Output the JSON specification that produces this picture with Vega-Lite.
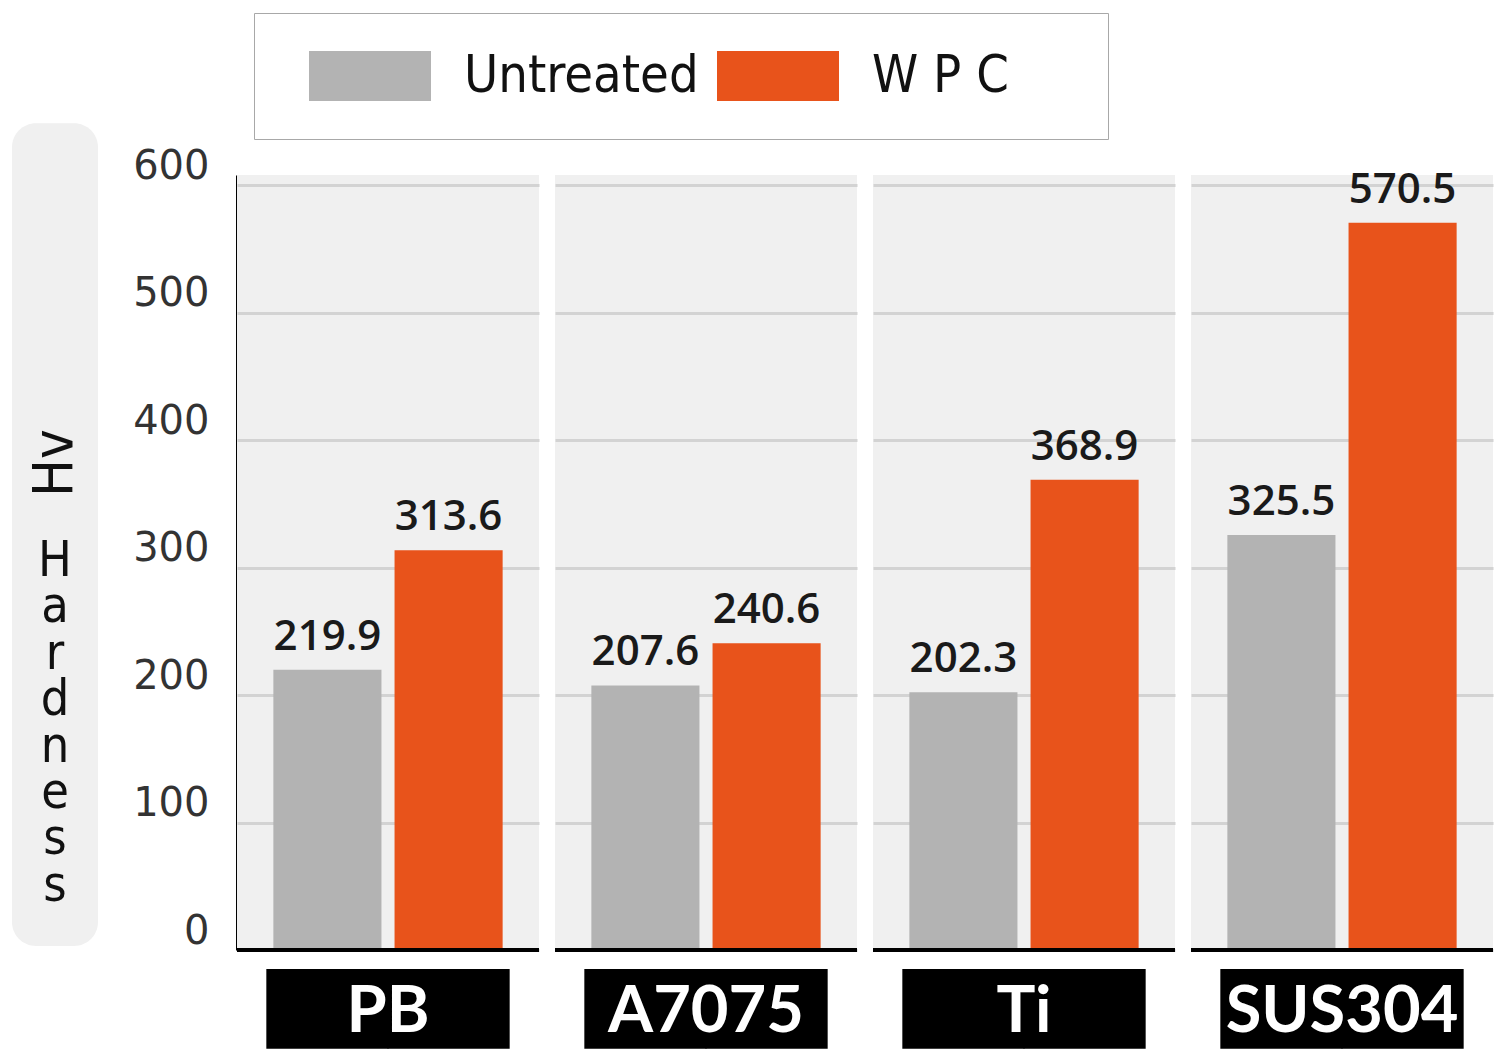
{
  "$schema": "https://vega.github.io/schema/vega-lite/v6.json",
  "padding": {"left": 12, "top": 12, "right": 0, "bottom": 0},
  "background": "white",
  "config": {"view": {"stroke": null}},
  "spacing": 139,
  "bounds": "flush",
  "hconcat": [
    {
      "width": 86,
      "height": 775,
      "data": {"values": [{"axis": "y"}]},
      "layer": [
        {
          "mark": {"type": "rect", "fill": "#f0f0f0", "cornerRadius": 24},
          "encoding": {
            "y": {"datum": 648.6, "type": "quantitative", "scale": {"domain": [0, 608], "nice": false, "zero": false}, "axis": null},
            "y2": {"datum": 3.1}
          }
        },
        {
          "mark": {"type": "text", "text": "Hv", "angle": 270, "font": "DejaVu Sans Condensed, DejaVu Sans, sans-serif", "fontSize": 56, "color": "#111", "baseline": "middle", "align": "center"},
          "encoding": {"y": {"datum": 382, "type": "quantitative"}}
        },
        {
          "mark": {"type": "text", "text": ["H", "a", "r", "d", "n", "e", "s", "s"], "lineHeight": 46.4, "font": "DejaVu Sans Condensed, DejaVu Sans, sans-serif", "fontSize": 50, "color": "#111", "baseline": "alphabetic", "align": "center"},
          "encoding": {"y": {"datum": 293.4, "type": "quantitative"}}
        }
      ]
    },
    {
      "data": {"values": [
        {"material": "PB", "treatment": "Untreated", "hardness": 219.9},
        {"material": "PB", "treatment": "WPC", "hardness": 313.6},
        {"material": "A7075", "treatment": "Untreated", "hardness": 207.6},
        {"material": "A7075", "treatment": "WPC", "hardness": 240.6},
        {"material": "Ti", "treatment": "Untreated", "hardness": 202.3},
        {"material": "Ti", "treatment": "WPC", "hardness": 368.9},
        {"material": "SUS304", "treatment": "Untreated", "hardness": 325.5},
        {"material": "SUS304", "treatment": "WPC", "hardness": 570.5}
      ]},
      "facet": {"column": {"field": "material", "type": "nominal", "sort": ["PB", "A7075", "Ti", "SUS304"], "header": null}},
      "spacing": 16,
      "bounds": "flush",
      "spec": {
        "width": 302,
        "height": 775,
        "view": {"fill": "#f0f0f0", "stroke": null},
        "layer": [
          {
            "mark": {"type": "bar"},
            "encoding": {
              "x": {"field": "treatment", "type": "nominal", "sort": ["Untreated", "WPC"], "axis": null, "scale": {"paddingInner": 0.108, "paddingOuter": 0.3}},
              "y": {"field": "hardness", "type": "quantitative", "scale": {"domain": [0, 608], "nice": false, "zero": false},
                "axis": {"title": null, "values": [0, 100, 200, 300, 400, 500, 600], "ticks": false, "domainColor": "#000", "domainWidth": 3, "labelFont": "DejaVu Sans", "labelFontSize": 40, "labelColor": "#333", "labelPadding": 28, "labelOffset": -19, "labelFlush": false, "labelOverlap": false, "gridColor": "#d3d3d3", "gridWidth": 3}},
              "color": {"field": "treatment", "type": "nominal", "sort": ["Untreated", "WPC"],
                "scale": {"domain": ["Untreated", "WPC"], "range": ["#b3b3b3", "#e8531b"]},
                "legend": {"orient": "none", "legendX": 242, "legendY": -162, "direction": "horizontal", "columns": 2, "title": null,
                  "symbolType": "M-3,0M11.72,0M-2.44,-1H2.44V1H-2.44Z", "symbolSize": 2500, "symbolStrokeWidth": 0, "symbolOffset": 53,
                  "labelFont": "DejaVu Sans Condensed, DejaVu Sans, sans-serif", "labelFontSize": 52, "labelColor": "#111", "labelOffset": 68, "labelLimit": 400,
                  "columnPadding": -24, "padding": 37, "strokeColor": "#a8a8a8", "fillColor": "white",
                  "labelExpr": "datum.label == 'WPC' ? 'W P C' : datum.label"}}
            }
          },
          {
            "mark": {"type": "text", "font": "Open Sans", "fontWeight": 600, "fontSize": 42, "color": "#1a1a1a", "baseline": "alphabetic", "dy": -20},
            "encoding": {
              "x": {"field": "treatment", "type": "nominal", "sort": ["Untreated", "WPC"]},
              "y": {"field": "hardness", "type": "quantitative"},
              "text": {"field": "hardness", "type": "quantitative", "format": ".1f"}
            }
          },
          {
            "mark": {"type": "rule", "color": "#000", "strokeWidth": 4},
            "encoding": {"y": {"datum": 0, "type": "quantitative"}}
          },
          {
            "mark": {"type": "bar", "color": "#000", "width": {"band": 1.13}},
            "encoding": {
              "x": {"field": "treatment", "type": "nominal", "sort": ["Untreated", "WPC"]},
              "y": {"datum": -15, "type": "quantitative"},
              "y2": {"datum": -77.5}
            }
          },
          {
            "transform": [{"filter": "datum.treatment == 'Untreated'"}],
            "mark": {"type": "text", "font": "Lato", "fontWeight": "bold", "fontSize": 65, "color": "white", "baseline": "middle", "align": "center"},
            "encoding": {
              "y": {"datum": -49, "type": "quantitative"},
              "text": {"field": "material", "type": "nominal"}
            }
          }
        ]
      }
    }
  ]
}
